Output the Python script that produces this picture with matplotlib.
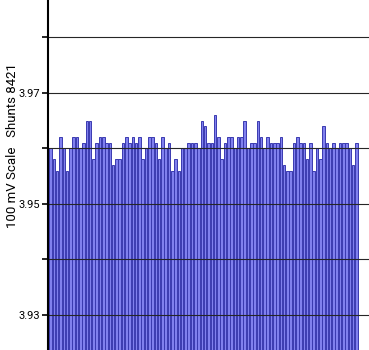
import matplotlib
matplotlib.use("Agg")
import matplotlib.pyplot as plt
import numpy as np

plt.rcParams['font.family'] = ['Roboto', 'DejaVu Sans']

# shunt readings, one bar per sample (volts)
readings = [
    3.960, 3.958, 3.956, 3.962, 3.960, 3.956, 3.960, 3.962, 3.962, 3.960,
    3.961, 3.965, 3.965, 3.958, 3.961, 3.962, 3.962, 3.961, 3.961, 3.957,
    3.958, 3.958, 3.961, 3.962, 3.961, 3.962, 3.961, 3.962, 3.958, 3.960,
    3.962, 3.962, 3.961, 3.958, 3.962, 3.960, 3.961, 3.956, 3.958, 3.956,
    3.960, 3.960, 3.961, 3.961, 3.961, 3.960, 3.965, 3.964, 3.961, 3.961,
    3.966, 3.962, 3.958, 3.961, 3.962, 3.962, 3.960, 3.962, 3.962, 3.965,
    3.960, 3.961, 3.961, 3.965, 3.962, 3.960, 3.962, 3.961, 3.961, 3.961,
    3.962, 3.957, 3.956, 3.956, 3.961, 3.962, 3.961, 3.961, 3.958, 3.961,
    3.956, 3.960, 3.958, 3.964, 3.961, 3.960, 3.961, 3.960, 3.961, 3.961,
    3.961, 3.960, 3.957, 3.961,
]
ylabel = "100 mV Scale   Shunts 8421"
grid_ticks = [3.93, 3.94, 3.95, 3.96, 3.97, 3.98]
labelled = {3.93: "3.93", 3.95: "3.95", 3.97: "3.97"}

fig = plt.figure(figsize=(3.69, 3.5), dpi=100)
ax = fig.add_axes([48 / 369, 0, 321 / 369, 1])

x = np.arange(len(readings))
base = 3.90
ax.bar(x, np.array(readings) - base, bottom=base, width=0.78,
       color='#8080ee', edgecolor='#3a3ab0', linewidth=0.7, zorder=2)

ax.set_ylim(3.9237, 3.9867)
ax.set_xlim(-0.8, 96.8)

ax.set_yticks(grid_ticks)
ax.set_yticklabels([labelled.get(t, "") for t in grid_ticks], fontsize=8)
ax.tick_params(axis='y', length=4, width=1.2, direction='out', pad=2)
ax.set_xticks([])
ax.yaxis.grid(True, color='#262626', lw=0.8, zorder=3)
ax.set_axisbelow(False)

for s in ['top', 'right', 'bottom']:
    ax.spines[s].set_visible(False)
ax.spines['left'].set_linewidth(1.5)
ax.spines['left'].set_zorder(4)

fig.text(13 / 369, 0.584, ylabel, rotation=90, fontsize=9.5,
         ha='center', va='center')

fig.savefig('out.png', dpi=100)
